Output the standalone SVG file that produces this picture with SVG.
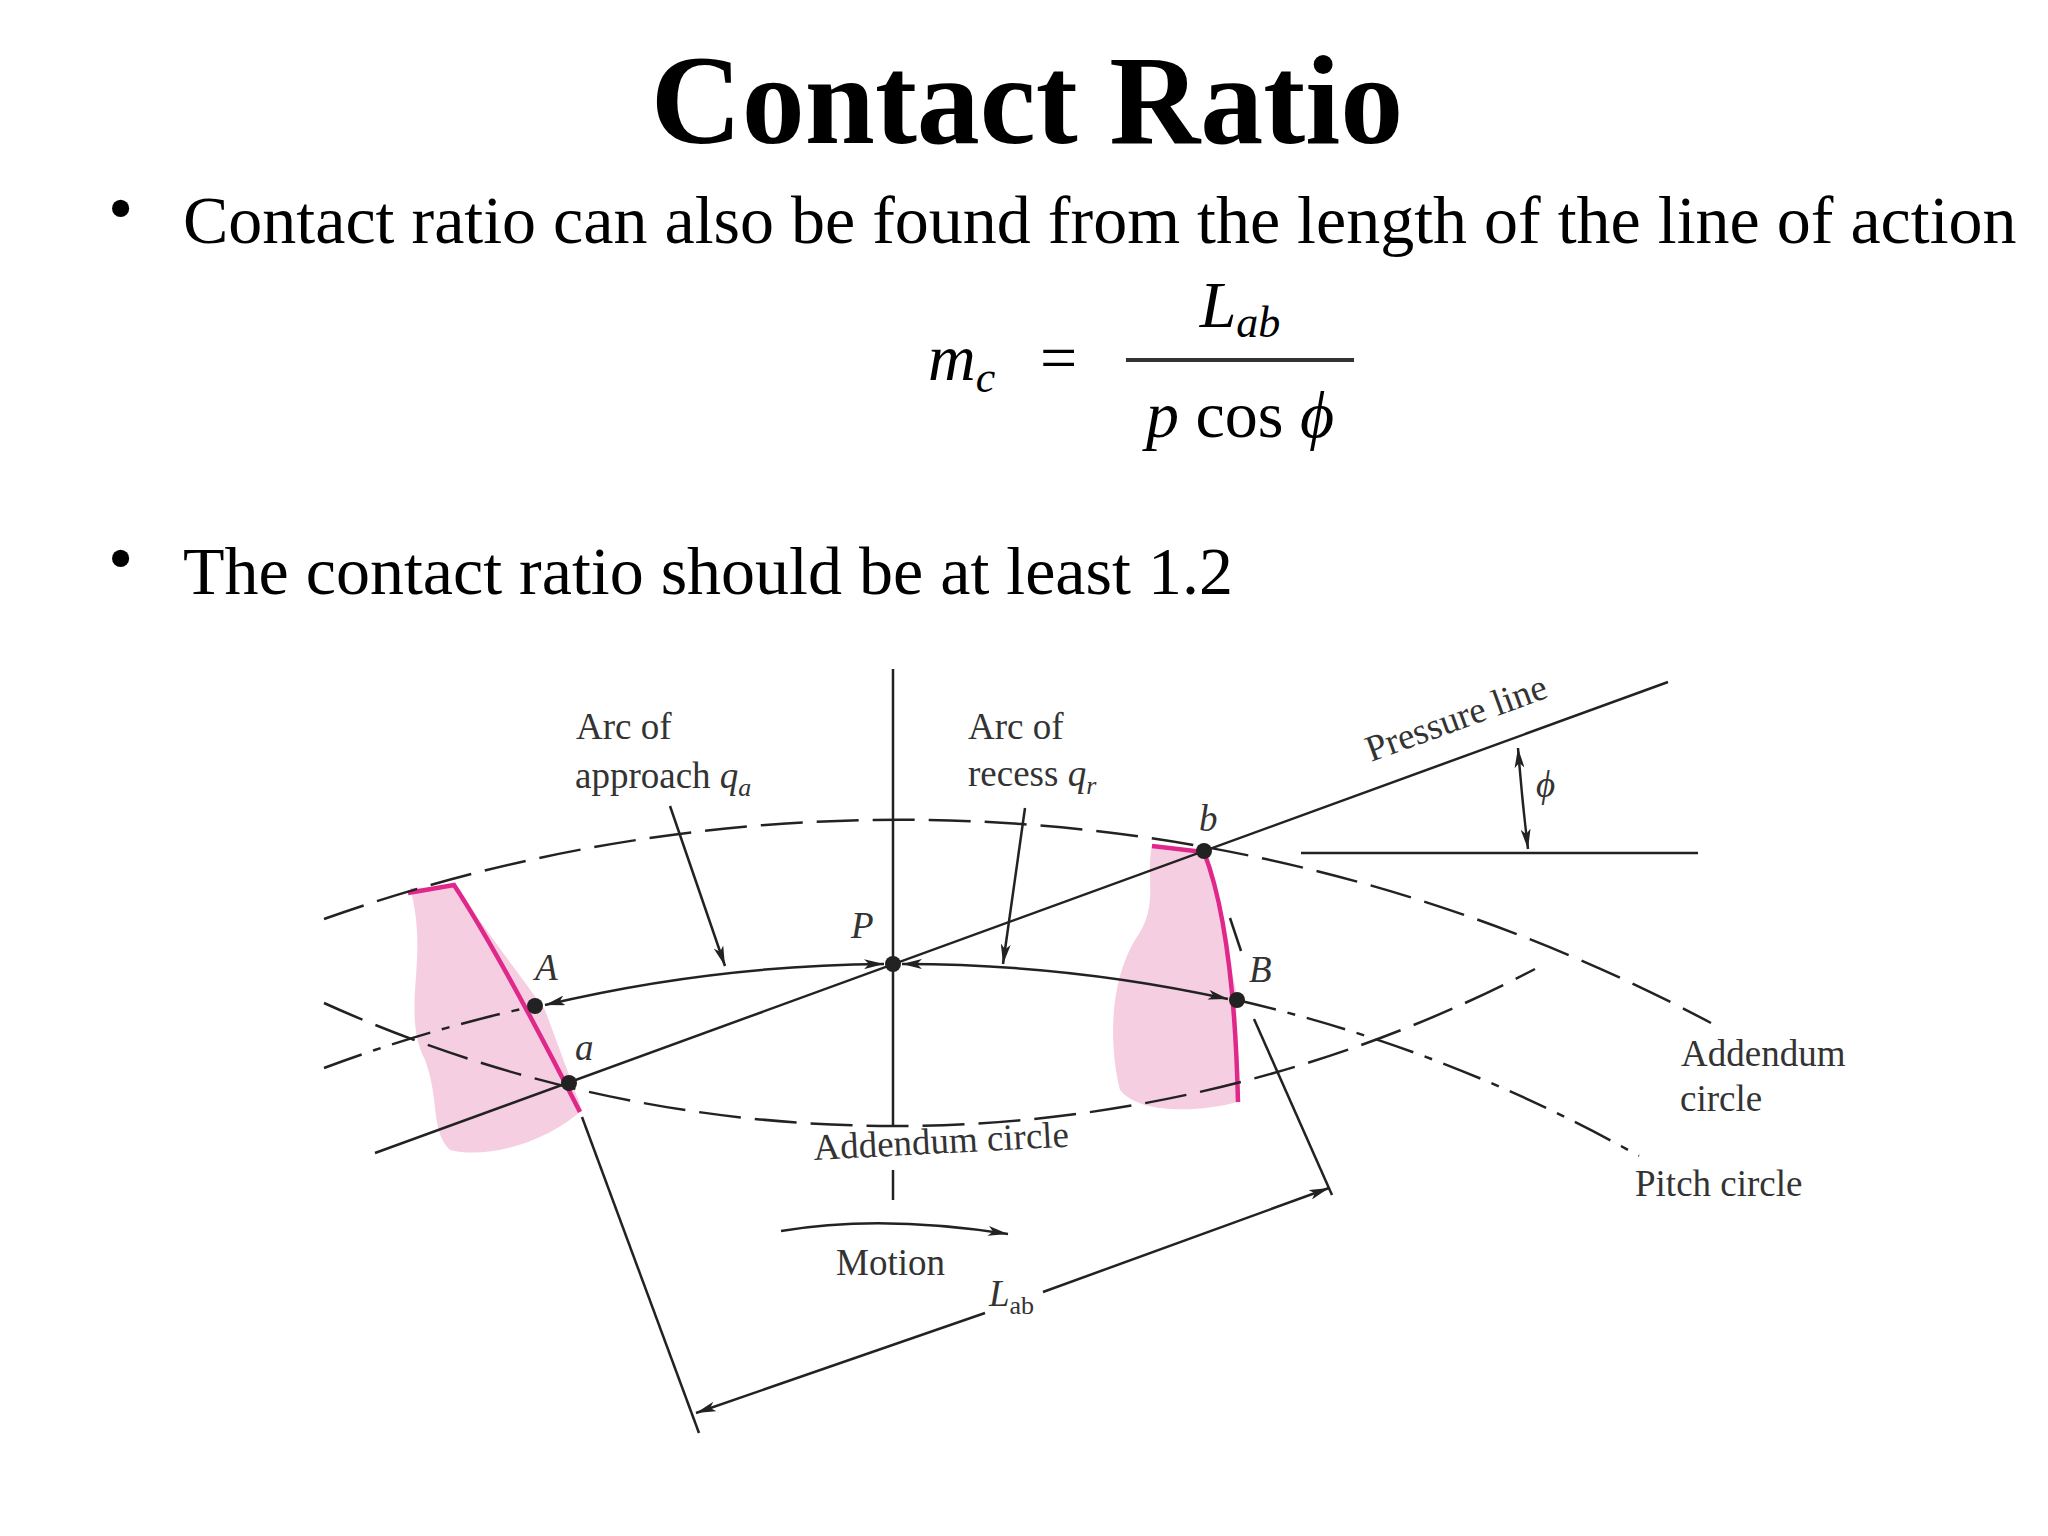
<svg xmlns="http://www.w3.org/2000/svg" width="2048" height="1536" viewBox="0 0 2048 1536">
<style>
.t{font-family:"Liberation Serif","DejaVu Serif",serif;fill:#000}
.d{font-family:"Liberation Serif","DejaVu Serif",serif;fill:#333;font-size:37px}
.ln{stroke:#222;stroke-width:2.5;fill:none}
.dash{stroke:#222;stroke-width:2.5;fill:none;stroke-dasharray:42 14}
.dd{stroke:#222;stroke-width:2.5;fill:none;stroke-dasharray:40 12 8 12}
.mag{stroke:#e0288a;stroke-width:4.5;fill:none}
.pink{fill:#f5c6dc;opacity:0.85}
.dot{fill:#222}
</style>
<defs>
<marker id="ah" viewBox="0 0 20 10" refX="20" refY="5" markerWidth="20" markerHeight="10" markerUnits="userSpaceOnUse" orient="auto-start-reverse">
<path d="M0,0 L20,5 L0,10 L5,5 Z" fill="#222"/>
</marker>
</defs>
<rect width="2048" height="1536" fill="#fff"/>
<text class="t" x="1027" y="143" font-size="126" font-weight="bold" text-anchor="middle">Contact Ratio</text>
<text class="t" x="108" y="232" font-size="72">•</text>
<text class="t" x="183" y="243" font-size="68">Contact ratio can also be found from the length of the line of action</text>
<g id="formula" class="t" fill="#333">
<text x="928" y="380" font-size="66" font-style="italic">m<tspan font-size="44" dy="12">c</tspan></text>
<text x="1040" y="380" font-size="66">=</text>
<line x1="1126" y1="360" x2="1354" y2="360" stroke="#333" stroke-width="4"/>
<text x="1240" y="327" font-size="66" font-style="italic" text-anchor="middle">L<tspan font-size="44" dy="10">ab</tspan></text>
<text x="1240" y="437" font-size="66" text-anchor="middle"><tspan font-style="italic">p</tspan> cos <tspan font-style="italic">ϕ</tspan></text>
</g>
<text class="t" x="108" y="582" font-size="72">•</text>
<text class="t" x="183" y="594" font-size="68">The contact ratio should be at least 1.2</text>

<g id="teeth">
<path class="pink" d="M410,888 C430,960 400,1010 425,1060 C440,1100 430,1130 450,1150 C490,1160 550,1140 582,1110 L545,1010 L455,887 Z"/>
<path class="pink" d="M1152,845 C1145,880 1160,905 1135,940 C1105,990 1112,1060 1120,1090 C1140,1115 1200,1112 1238,1102 L1236,990 L1205,853 Z"/>
<path class="mag" d="M408,893 L454,885 Q500,955 580,1112"/>
<path class="mag" d="M1152,846 L1204,852 Q1234,930 1238,1102"/>
</g>

<g id="connectors">
<path class="dash" d="M324,919 A1720,1720 0 0 1 1711,1023"/>
<path class="dash" d="M324,1003 A1385,1385 0 0 0 1535,969"/>
<path class="dd" d="M324,1068 A1520,1520 0 0 1 535,1006"/>
<path class="dd" d="M1237,1000 A1520,1520 0 0 1 1639,1156"/>
<line class="ln" x1="375" y1="1153" x2="1668" y2="682"/>
<line class="ln" x1="893" y1="669" x2="893" y2="1125"/>
<line class="ln" x1="893" y1="1170" x2="893" y2="1200"/>
<line class="ln" x1="1301" y1="853" x2="1698" y2="853"/>
<path class="ln" d="M1518,748 Q1522,800 1528,849" marker-start="url(#ah)" marker-end="url(#ah)"/>
<line class="ln" x1="670" y1="806" x2="725" y2="966" marker-end="url(#ah)"/>
<line class="ln" x1="1025" y1="808" x2="1003" y2="964" marker-end="url(#ah)"/>
<path class="ln" d="M884,964 A1520,1520 0 0 0 545,1005" marker-start="url(#ah)" marker-end="url(#ah)"/>
<path class="ln" d="M902,964 A1520,1520 0 0 1 1228,999" marker-start="url(#ah)" marker-end="url(#ah)"/>
<line class="ln" x1="1230" y1="918" x2="1241" y2="951"/>
<line class="ln" x1="582" y1="1117" x2="699" y2="1433"/>
<line class="ln" x1="1254" y1="1019" x2="1332" y2="1195"/>
<path class="ln" d="M985,1313 L696,1413" marker-end="url(#ah)"/>
<path class="ln" d="M1043,1292 L1329,1188" marker-end="url(#ah)"/>
<path class="ln" d="M781,1231 Q880,1214 1008,1234" marker-end="url(#ah)"/>
</g>

<g id="points">
<circle class="dot" cx="893" cy="964" r="8"/>
<circle class="dot" cx="1204" cy="851" r="8"/>
<circle class="dot" cx="569" cy="1083" r="8"/>
<circle class="dot" cx="535" cy="1006" r="8"/>
<circle class="dot" cx="1237" cy="1000" r="8"/>
</g>

<g id="labels">
<text class="d" x="576" y="739">Arc of</text>
<text class="d" x="575" y="788">approach <tspan font-style="italic">q</tspan><tspan font-style="italic" font-size="26" dy="8">a</tspan></text>
<text class="d" x="968" y="739">Arc of</text>
<text class="d" x="968" y="786">recess <tspan font-style="italic">q</tspan><tspan font-style="italic" font-size="26" dy="8">r</tspan></text>
<text class="d" x="851" y="938" font-style="italic">P</text>
<text class="d" x="535" y="980" font-style="italic">A</text>
<text class="d" x="575" y="1060" font-style="italic">a</text>
<text class="d" x="1199" y="831" font-style="italic">b</text>
<text class="d" x="1249" y="982" font-style="italic">B</text>
<text class="d" x="1371" y="762" transform="rotate(-20 1371 762)">Pressure line</text>
<text class="d" x="1536" y="797" font-style="italic">ϕ</text>
<text class="d" x="1681" y="1066">Addendum</text>
<text class="d" x="1680" y="1111">circle</text>
<text class="d" x="1635" y="1196">Pitch circle</text>
<text class="d" x="814" y="1160" transform="rotate(-3 814 1160)">Addendum circle</text>
<text class="d" x="836" y="1275">Motion</text>
<text class="d" x="989" y="1306" font-style="italic">L<tspan font-style="normal" font-size="26" dy="8">ab</tspan></text>
</g>
</svg>
